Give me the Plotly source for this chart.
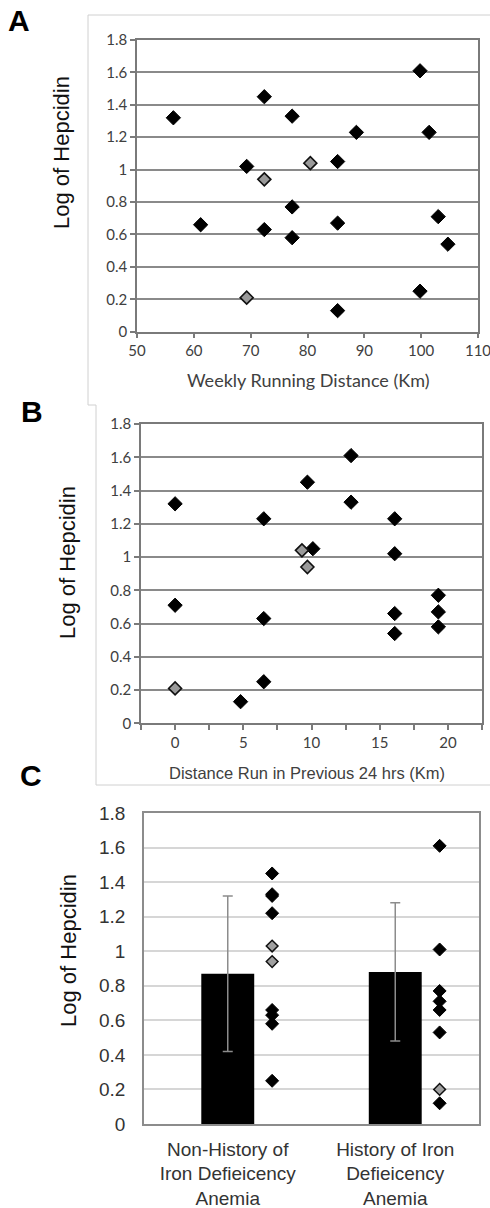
import plotly.graph_objects as go

W, H = 490, 1208

# ---------------- data ----------------
# Panel A: weekly running distance (km) vs log hepcidin
a_dist_black = [56.4, 72.4, 77.3, 88.6, 99.8, 101.4, 69.3, 85.3, 61.2, 72.4, 77.3, 77.3, 85.3, 103.0, 104.7, 85.3, 99.8]
a_hep_black = [1.32, 1.45, 1.33, 1.23, 1.61, 1.23, 1.02, 1.05, 0.66, 0.63, 0.77, 0.58, 0.67, 0.71, 0.54, 0.13, 0.25]
a_dist_gray = [72.4, 80.5, 69.3]
a_hep_gray = [0.94, 1.04, 0.21]
a_tickvals = [50, 60, 70, 80, 90, 100, 110]

# Panel B: distance run in previous 24 hrs (km) vs log hepcidin
b_dist_black = [0, 6.5, 9.7, 10.1, 12.9, 12.9, 16.1, 16.1, 0, 4.8, 6.5, 6.5, 16.1, 16.1, 19.3, 19.3, 19.3]
b_hep_black = [1.32, 1.23, 1.45, 1.05, 1.61, 1.33, 1.23, 1.02, 0.71, 0.13, 0.63, 0.25, 0.66, 0.54, 0.77, 0.67, 0.58]
b_dist_gray = [9.3, 9.7, 0]
b_hep_gray = [1.04, 0.94, 0.21]
b_tickvals = [-2.5, 0, 2.5, 5, 7.5, 10, 12.5, 15, 17.5, 20, 22.5]
b_ticktext = ["", "0", "", "5", "", "10", "", "15", "", "20", ""]

# Panel C: group means with SD and individual values
c_categories = ["Non-History of<br>Iron Defieicency<br>Anemia", "History of Iron<br>Defieicency<br>Anemia"]
c_means = [0.87, 0.88]
c_sd = [0.45, 0.40]
c_g1_black = [1.45, 1.33, 1.32, 1.22, 0.66, 0.63, 0.58, 0.25]
c_g1_gray = [1.03, 0.94]
c_g2_black = [1.61, 1.01, 0.77, 0.71, 0.66, 0.53, 0.12]
c_g2_gray = [0.20]

y_ticks = [0, 0.2, 0.4, 0.6, 0.8, 1, 1.2, 1.4, 1.6, 1.8]

# ---------------- helpers ----------------
def px_x(x):
    return x / W

def px_y(y):
    return 1 - y / H

BLACK_M = dict(symbol="diamond", size=11, color="black", line=dict(color="black", width=1))
GRAY_M = dict(symbol="diamond", size=10, color="#9a9a9a", line=dict(color="#111111", width=1.6))

fig = go.Figure()

# Panel A
fig.add_trace(go.Scatter(x=a_dist_black, y=a_hep_black, mode="markers", marker=BLACK_M,
                         xaxis="x", yaxis="y", showlegend=False, cliponaxis=False))
fig.add_trace(go.Scatter(x=a_dist_gray, y=a_hep_gray, mode="markers", marker=GRAY_M,
                         xaxis="x", yaxis="y", showlegend=False, cliponaxis=False))
# Panel B
fig.add_trace(go.Scatter(x=b_dist_black, y=b_hep_black, mode="markers", marker=BLACK_M,
                         xaxis="x2", yaxis="y2", showlegend=False, cliponaxis=False))
fig.add_trace(go.Scatter(x=b_dist_gray, y=b_hep_gray, mode="markers", marker=GRAY_M,
                         xaxis="x2", yaxis="y2", showlegend=False, cliponaxis=False))
# Panel C
cat_pos = list(range(len(c_categories)))
fig.add_trace(go.Bar(x=cat_pos, y=c_means, width=0.316, marker=dict(color="black", line=dict(width=0)),
                     error_y=dict(type="data", array=c_sd, visible=True, color="#8c8c8c",
                                  thickness=1.5, width=5),
                     xaxis="x3", yaxis="y3", showlegend=False))
pt_off = 0.265
CM_B = dict(symbol="diamond", size=10, color="black", line=dict(color="black", width=1))
CM_G = dict(symbol="diamond", size=9, color="#a0a0a0", line=dict(color="#111111", width=1.5))
fig.add_trace(go.Scatter(x=[cat_pos[0] + pt_off] * len(c_g1_black), y=c_g1_black, mode="markers",
                         marker=CM_B, xaxis="x3", yaxis="y3", showlegend=False))
fig.add_trace(go.Scatter(x=[cat_pos[0] + pt_off] * len(c_g1_gray), y=c_g1_gray, mode="markers",
                         marker=CM_G, xaxis="x3", yaxis="y3", showlegend=False))
fig.add_trace(go.Scatter(x=[cat_pos[1] + pt_off] * len(c_g2_black), y=c_g2_black, mode="markers",
                         marker=CM_B, xaxis="x3", yaxis="y3", showlegend=False))
fig.add_trace(go.Scatter(x=[cat_pos[1] + pt_off] * len(c_g2_gray), y=c_g2_gray, mode="markers",
                         marker=CM_G, xaxis="x3", yaxis="y3", showlegend=False))

tick_font_ab = dict(family="Lato, Open Sans, sans-serif", size=15, color="#404040")
grid_ab = "#8a8a8a"
line_ab = "#7a7a7a"

common_y_ab = dict(range=[0, 1.8], tickvals=y_ticks, showgrid=True, gridcolor=grid_ab, gridwidth=1.5,
                   showline=True, linecolor=line_ab, linewidth=1.5, mirror=True,
                   ticks="outside", ticklen=5, tickcolor=line_ab, tickwidth=1.5,
                   tickfont=tick_font_ab, zeroline=False, fixedrange=True, automargin=False)

c_font = dict(family="Liberation Sans, Arial, sans-serif", size=19, color="#333333")

fig.update_layout(
    width=W, height=H, margin=dict(l=0, r=0, t=0, b=0, autoexpand=False),
    paper_bgcolor="white", plot_bgcolor="white",
    xaxis=dict(domain=[px_x(137), px_x(478)], anchor="y", range=[50, 110],
               tickmode="array", tickvals=a_tickvals, ticklabeloverflow="allow", automargin=False,
               showgrid=False, zeroline=False, showline=True, linecolor=line_ab, linewidth=1.5, mirror=True,
               ticks="outside", ticklen=5, tickcolor=line_ab, tickwidth=1.5, tickfont=tick_font_ab),
    yaxis=dict(domain=[px_y(331.7), px_y(40)], anchor="x", **common_y_ab),
    xaxis2=dict(domain=[px_x(141), px_x(482)], anchor="y2", range=[-2.5, 22.5],
                tickmode="array", tickvals=b_tickvals, ticktext=b_ticktext, automargin=False,
                showgrid=False, zeroline=False, showline=True, linecolor=line_ab, linewidth=1.5, mirror=True,
                ticks="outside", ticklen=5, tickcolor=line_ab, tickwidth=1.5, tickfont=tick_font_ab),
    yaxis2=dict(domain=[px_y(723.3), px_y(424)], anchor="x2", **common_y_ab),
    xaxis3=dict(domain=[px_x(144), px_x(479)], anchor="y3", range=[-0.5, 1.5], automargin=False,
                tickvals=cat_pos, ticktext=c_categories, showgrid=False, zeroline=False,
                showline=True, linecolor="#8c8c8c", linewidth=1.5, mirror=True, ticks="",
                ticklabelstandoff=7, tickfont=c_font),
    yaxis3=dict(domain=[px_y(1124), px_y(813)], anchor="x3", range=[0, 1.8], tickvals=y_ticks,
                showgrid=True, gridcolor="#d6d6d6", gridwidth=2, zeroline=False, automargin=False,
                showline=True, linecolor="#8c8c8c", linewidth=1.5, mirror=True, ticks="",
                ticklabelstandoff=13, tickfont=c_font),
)

# Light frames around A and B
frame_col = "#d0d0d0"
shapes = [
    dict(type="line", xref="paper", yref="paper", x0=px_x(88), x1=px_x(490), y0=px_y(15), y1=px_y(15)),
    dict(type="line", xref="paper", yref="paper", x0=px_x(88), x1=px_x(88), y0=px_y(15), y1=px_y(405)),
    dict(type="line", xref="paper", yref="paper", x0=px_x(88), x1=px_x(96), y0=px_y(405), y1=px_y(405)),
    dict(type="line", xref="paper", yref="paper", x0=px_x(96), x1=px_x(96), y0=px_y(405), y1=px_y(785)),
    dict(type="line", xref="paper", yref="paper", x0=px_x(96), x1=px_x(490), y0=px_y(785), y1=px_y(785)),
]
for s in shapes:
    s["line"] = dict(color=frame_col, width=1)
    s["layer"] = "below"
fig.update_layout(shapes=shapes)

ytitle_font = dict(family="Liberation Sans, Arial, sans-serif", size=22, color="#111111")
letter_font = dict(family="Liberation Sans, Arial", size=30, color="black")
ann = [
    dict(text="<b>A</b>", x=px_x(19), y=px_y(21), font=letter_font),
    dict(text="<b>B</b>", x=px_x(32), y=px_y(411), font=letter_font),
    dict(text="<b>C</b>", x=px_x(31), y=px_y(776), font=letter_font),
    dict(text="Log of Hepcidin", x=px_x(62), y=px_y(152), textangle=-90, font=ytitle_font),
    dict(text="Log of Hepcidin", x=px_x(67), y=px_y(563), textangle=-90, font=ytitle_font),
    dict(text="Log of Hepcidin", x=px_x(68), y=px_y(951), textangle=-90, font=ytitle_font),
    dict(text="Weekly Running Distance (Km)", x=px_x(308), y=px_y(380),
         font=dict(family="Lato, Open Sans, sans-serif", size=18, color="#404040")),
    dict(text="Distance Run in Previous 24 hrs (Km)", x=px_x(307), y=px_y(773),
         font=dict(family="Liberation Sans, Arial, sans-serif", size=16.5, color="#404040")),
]
for a in ann:
    a.update(xref="paper", yref="paper", showarrow=False, xanchor="center", yanchor="middle")
fig.update_layout(annotations=ann)

fig.write_html("out.html")
